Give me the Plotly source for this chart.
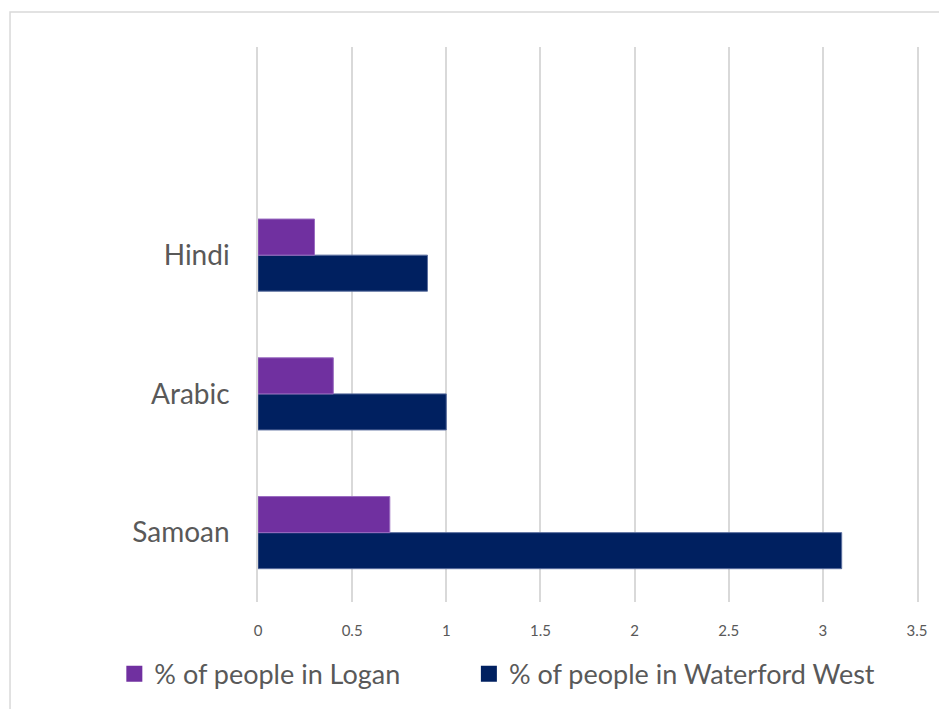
import plotly.graph_objects as go

# languages, bottom to top as drawn
languages = ['Samoan', 'Arabic', 'Hindi']
pct_logan = [0.7, 0.4, 0.3]
pct_waterford_west = [3.1, 1.0, 0.9]
x_ticks = [0, 0.5, 1, 1.5, 2, 2.5, 3, 3.5]
x_tick_labels = ['0', '0.5', '1', '1.5', '2', '2.5', '3', '3.5']

FONT = 'Lato'
TEXT_COLOR = '#595959'
GRID_COLOR = '#D9D9D9'
LOGAN_COLOR = '#7030A0'
WATERFORD_COLOR = '#002060'

fig = go.Figure()

# first trace sits lowest in each group, so Waterford West goes first
fig.add_trace(go.Bar(
	y=languages,
	x=pct_waterford_west,
	orientation='h',
	name='% of people in Waterford West',
	showlegend=False,
	marker=dict(color=WATERFORD_COLOR, line=dict(color='#5B6E9E', width=1)),
))
fig.add_trace(go.Bar(
	y=languages,
	x=pct_logan,
	orientation='h',
	name='% of people in Logan',
	showlegend=False,
	marker=dict(color=LOGAN_COLOR, line=dict(color='#9A6CC0', width=1)),
))

# legend entries only (bigger square keys than plotly's bar swatch)
for name, color, leg in [('% of people in Logan', LOGAN_COLOR, 'legend'),
						 ('% of people in Waterford West', WATERFORD_COLOR, 'legend2')]:
	fig.add_trace(go.Scatter(
		x=[None], y=[None],
		mode='markers',
		name=name,
		legend=leg,
		marker=dict(symbol='square', size=16, color=color),
		hoverinfo='skip',
	))

legend_style = dict(
	orientation='h',
	xanchor='left',
	y=-0.128,
	yanchor='middle',
	font=dict(size=27, color=TEXT_COLOR),
	itemwidth=30,
	bgcolor='rgba(0,0,0,0)',
)

fig.update_layout(
	barmode='group',
	bargap=0.48,
	bargroupgap=0,
	width=939,
	height=701,
	margin=dict(l=250, r=30, t=39, b=106),
	paper_bgcolor='white',
	plot_bgcolor='white',
	font=dict(family=FONT, color=TEXT_COLOR),
	showlegend=True,
	legend=dict(x=-0.218, **legend_style),
	legend2=dict(x=0.320, **legend_style),
	xaxis=dict(
		range=[0, 3.5],
		tickvals=x_ticks,
		ticktext=x_tick_labels,
		showgrid=True,
		gridcolor=GRID_COLOR,
		gridwidth=1.5,
		zeroline=False,
		showline=False,
		ticks='',
		ticklabelstandoff=18,
		tickfont=dict(size=15, color=TEXT_COLOR),
		fixedrange=True,
	),
	yaxis=dict(
		type='category',
		categoryorder='array',
		categoryarray=languages,
		range=[-0.5, 3.5],
		showgrid=False,
		zeroline=False,
		showline=True,
		mirror=True,
		linecolor=GRID_COLOR,
		linewidth=1.5,
		ticks='',
		ticklabelstandoff=21,
		tickfont=dict(size=28, color=TEXT_COLOR),
		fixedrange=True,
	),
	# light frame round the whole chart, as in the original export
	shapes=[dict(
		type='rect',
		xref='paper', yref='paper',
		x0=-0.3763, x1=1.2, y0=-0.3, y1=1.0629,
		line=dict(color=GRID_COLOR, width=1.5),
		fillcolor='rgba(0,0,0,0)',
		layer='below',
	)],
)

fig.write_html('out.html')
